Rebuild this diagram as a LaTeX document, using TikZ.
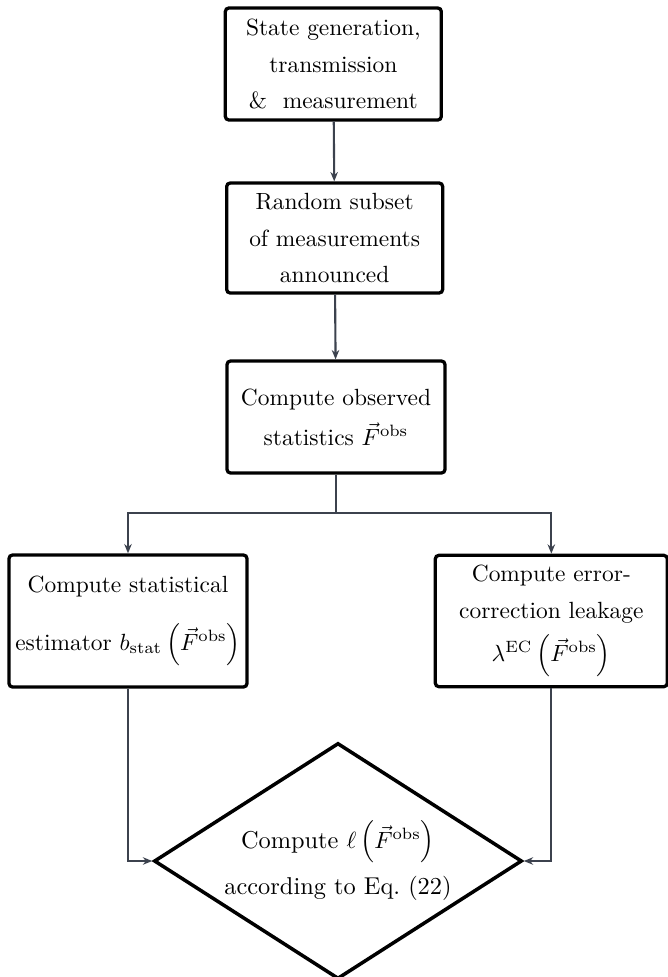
\documentclass[tikz,border=0pt]{standalone}
\usepackage{amsmath}
\usetikzlibrary{shapes.geometric,arrows.meta}
\definecolor{slate}{RGB}{60,66,78}
\begin{document}
\begin{tikzpicture}
        \tikzset{
          block/.style={draw=black,line width=1.4pt,rounded corners=1.5pt,align=center,
            inner sep=1pt,execute at begin node=\setlength{\baselineskip}{15.5pt}},
          decision/.style={diamond,draw=black,line width=1.5pt,align=center,aspect=1.56,
            inner sep=0pt,minimum width=5.52cm,minimum height=3.54cm,
            font=\fontsize{10.4pt}{16pt}\selectfont},
          conn/.style={slate,line width=0.9pt,-{Stealth[length=4pt,width=3.2pt]}},
          wire/.style={slate,line width=0.9pt},
        }
        \useasboundingbox (0,0) rectangle (10.005,-14.655);

        %CHAIN
        \node[block,minimum width=3.24cm,minimum height=1.68cm] (gen) at (5.0,-0.96)
          {State generation,\\ transmission\\ \& \ measurement};
        \node[block,minimum width=3.24cm,minimum height=1.65cm] (sub) at (5.02,-3.57)
          {Random subset\\ of measurements\\ announced};
        \node[block,minimum width=3.27cm,minimum height=1.68cm] (obs) at (5.04,-6.255)
          {Compute observed\\[1.5pt] statistics $\vec{F}^{\mathrm{obs}}$};
        \draw[conn] (gen) -- (sub);
        \draw[conn] (sub) -- (obs);

        %BRANCHES
        \node[block,minimum width=3.57cm,minimum height=1.98cm] (stat) at (1.92,-9.315)
          {Compute statistical\\[9pt] estimator $b_{\mathrm{stat}}\left(\vec{F}^{\mathrm{obs}}\right)$};
        \node[block,minimum width=3.48cm,minimum height=1.97cm] (leak) at (8.27,-9.315)
          {Compute error-\\ correction leakage\\[3pt] $\lambda^{\mathrm{EC}}\left(\vec{F}^{\mathrm{obs}}\right)$};
        \coordinate (split) at (5.04,-7.695);
        \draw[wire] (obs) -- (split);
        \draw[conn] (split) -| (stat);
        \draw[conn] (split) -| (leak);

        %DECISION
        \node[decision] (ell) at (5.07,-12.915)
          {Compute $\ell\left(\vec{F}^{\mathrm{obs}}\right)$\\[4pt] according to Eq.~(22)};
        \draw[conn] (stat) |- (ell);
        \draw[conn] (leak) |- (ell);
\end{tikzpicture}
\end{document}
